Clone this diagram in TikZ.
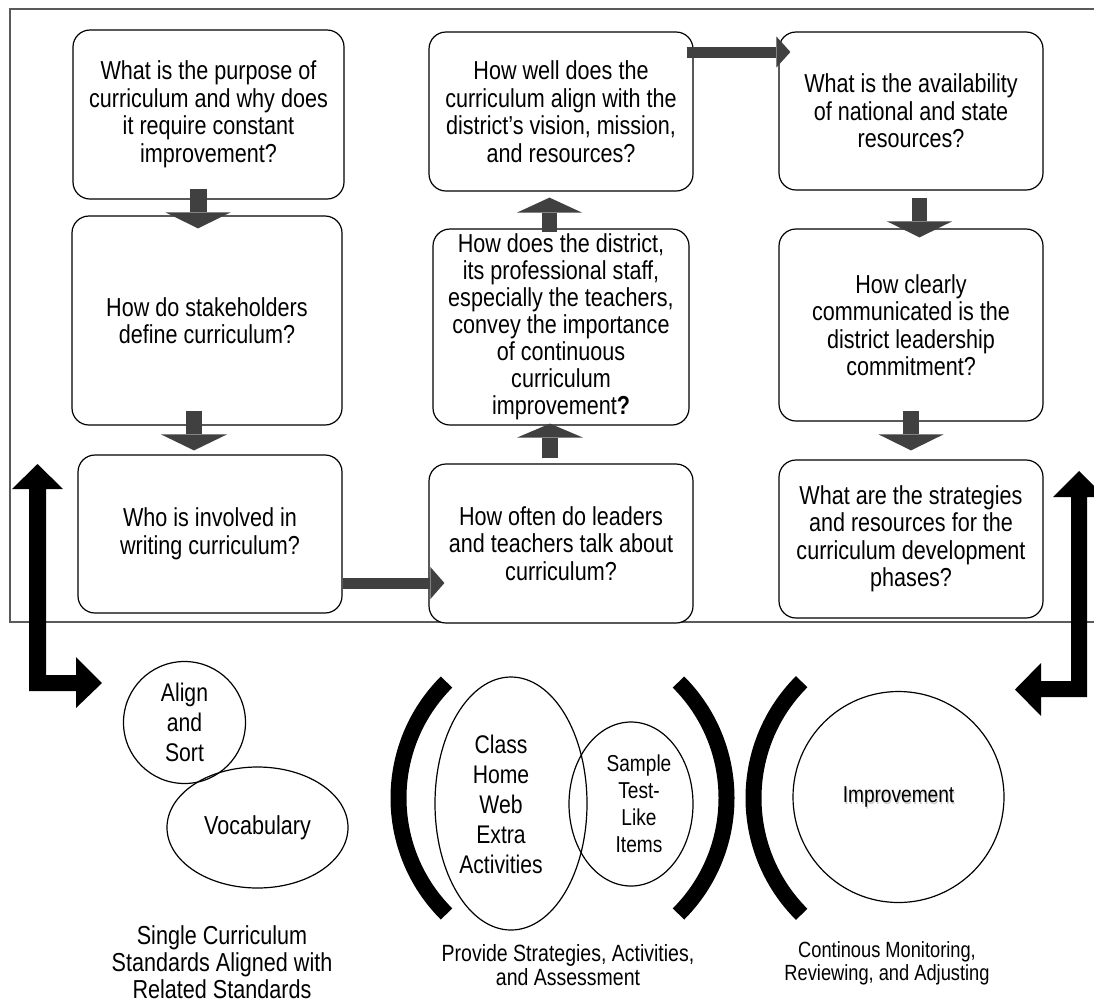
\documentclass[tikz,border=0pt]{standalone}
\usepackage{fontspec}
\setmainfont{Liberation Sans}[FakeStretch=0.83]
\usetikzlibrary{arrows.meta,shapes.geometric}
\definecolor{arrowgray}{RGB}{64,64,64}
\definecolor{framegray}{RGB}{90,90,90}
\begin{document}
\begin{tikzpicture}[x=1pt,y=-1pt,
  qbox/.style={draw=black, line width=1.2pt, rounded corners=17pt, fill=white,
    align=center, inner sep=0pt, font=\fontsize{26}{27.5}\selectfont},
  blk/.style n args={3}{draw=arrowgray, line width=#1, line cap=butt,
    -{Triangle[length=#2,width=#3,line width=0pt]}},
  bigarrow/.style={fill=black},
  paren/.style={line width=16pt, line cap=butt},
  outline/.style={draw=black, line width=1.2pt, inner sep=0pt},
  lbl/.style={align=center, inner sep=0pt},
  frame/.style={draw=framegray, line width=1.6pt}
]
\useasboundingbox (0,0) rectangle (1094,1002);

% outer frame (right side beyond the picture)
\draw[frame] (1110,9) -- (10,9) -- (10,622) -- (1110,622);

% question boxes
\node[qbox, minimum width=271pt, minimum height=169pt] (b1) at (208.5,114.5)
  {What is the purpose of\\curriculum and why does\\it require constant\\improvement?};
\node[qbox, minimum width=270pt, minimum height=209pt] (b2) at (207,320.5)
  {How do stakeholders\\define curriculum?};
\node[qbox, minimum width=264pt, minimum height=158pt] (b3) at (210,534)
  {Who is involved in\\writing curriculum?};
\node[qbox, minimum width=264pt, minimum height=159pt] (b4) at (561,111.5)
  {How well does the\\curriculum align with the\\district's vision, mission,\\and resources?};
\node[qbox, minimum width=256pt, minimum height=196pt, font=\fontsize{26}{27}\selectfont] (b5) at (561,327)
  {How does the district,\\its professional staff,\\especially the teachers,\\convey the importance\\of continuous\\curriculum\\improvement\textbf{?}};
\node[qbox, minimum width=264pt, minimum height=159pt] (b6) at (561,543.5)
  {How often do leaders\\and teachers talk about\\curriculum?};
\node[qbox, minimum width=264pt, minimum height=158pt] (b7) at (911,111)
  {What is the availability\\of national and state\\resources?};
\node[qbox, minimum width=264pt, minimum height=192pt] (b8) at (911,325)
  {How clearly\\communicated is the\\district leadership\\commitment?};
\node[qbox, minimum width=264pt, minimum height=158pt] (b9) at (911,539)
  {What are the strategies\\and resources for the\\curriculum development\\phases?};

% block arrows between boxes
\draw[blk={17pt}{16pt}{65pt}] ([xshift=-10.5pt,yshift=11pt]b1.south) -- ([xshift=-9pt,yshift=-13pt]b2.north);
\draw[blk={16pt}{16pt}{66pt}] ([xshift=-13pt,yshift=15pt]b2.south) -- ([xshift=-16pt,yshift=4pt]b3.north);
\draw[blk={11pt}{14pt}{32pt}] ([yshift=-49pt]b3.east) -- ([xshift=16pt,yshift=-39.5pt]b6.west);
\draw[blk={16pt}{14pt}{66pt}] ([xshift=-11pt,yshift=5pt]b6.north) -- ([xshift=-11pt,yshift=2pt]b5.south);
\draw[blk={15pt}{15pt}{65pt}] ([xshift=-11.5pt,yshift=-4pt]b5.north) -- ([xshift=-11.5pt,yshift=-6pt]b4.south);
\draw[blk={11pt}{14pt}{31pt}] ([xshift=-7pt,yshift=59.5pt]b4.east) -- ([xshift=12pt,yshift=59pt]b7.west);
\draw[blk={15pt}{16pt}{65pt}] ([xshift=8.5pt,yshift=-7pt]b7.south) -- ([xshift=8.5pt,yshift=-9pt]b8.north);
\draw[blk={16pt}{16pt}{65pt}] ([yshift=11pt]b8.south) -- ([yshift=9pt]b9.north);

% big black elbow arrows
\fill[bigarrow] (29,489) -- (12,489) -- (37.5,464) -- (63,489) -- (46,489) -- (46,675)
  -- (76,675) -- (76,657) -- (102,683) -- (76,708) -- (76,691) -- (29,691) -- cycle;
\fill[bigarrow] (1071,497) -- (1053,497) -- (1079,471) -- (1105,497) -- (1087,497) -- (1087,697)
  -- (1041,697) -- (1041,716) -- (1015,689.5) -- (1041,663) -- (1041,681) -- (1071,681) -- cycle;

% bottom left group
\node[outline, circle, minimum size=122pt, align=center, font=\fontsize{25.5}{30}\selectfont]
  (align) at (184.5,722.5) {Align\\and\\Sort};
\node[outline, ellipse, minimum width=181pt, minimum height=121pt, font=\fontsize{26}{28}\selectfont]
  (vocab) at (257.5,827.5) {Vocabulary};
\node[lbl, font=\fontsize{26}{27}\selectfont] (single) at (222,962)
  {Single Curriculum\\Standards Aligned with\\Related Standards};

% middle group
\node[outline, ellipse, minimum width=152pt, minimum height=253pt] (class) at (511,803.5) {};
\node[outline, ellipse, minimum width=124pt, minimum height=164pt] (sample) at (631,804) {};
\node[lbl, font=\fontsize{25.5}{30}\selectfont] (classtxt) at (501,804)
  {Class\\Home\\Web\\Extra\\Activities};
\node[lbl, font=\fontsize{23}{27}\selectfont] (sampletxt) at (639,804)
  {Sample\\Test-\\Like\\Items};
\draw[paren] (562.5,798) ++(135:164pt) arc[start angle=135, end angle=225, radius=164pt];
\draw[paren] (562.5,798) ++(45:164pt) arc[start angle=45, end angle=-45, radius=164pt];
\node[lbl, font=\fontsize{23.5}{24}\selectfont] (provide) at (568,965)
  {Provide Strategies, Activities,\\and Assessment};

% right group
\draw[paren] (918,798) ++(135:164.5pt) arc[start angle=135, end angle=225, radius=164.5pt];
\node[outline, circle, minimum size=211pt] (impr) at (898.5,797) {};
\node[lbl, text=black!20, font=\fontsize{23}{25}\selectfont] (imprshadow) at (899.5,798.5) {Improvement};
\node[lbl, font=\fontsize{23}{25}\selectfont] (imprtxt) at (898.5,797) {Improvement};
\node[lbl, font=\fontsize{22}{23}\selectfont] (monitor) at (887,963.5)
  {Continous Monitoring,\\Reviewing, and Adjusting};
\end{tikzpicture}
\end{document}
